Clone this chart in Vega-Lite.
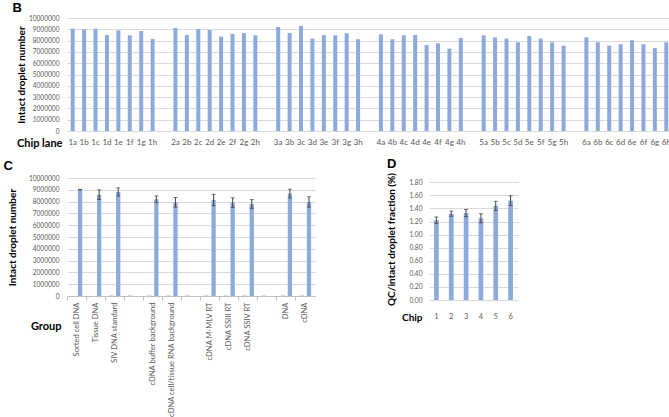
{
  "$schema": "https://vega.github.io/schema/vega-lite/v6.json",
  "padding": {"left": 3, "top": 2, "right": 0, "bottom": 0},
  "background": "white",
  "config": {
    "view": {"stroke": null},
    "font": "Lato",
    "axis": {"labelFont": "Lato", "labelColor": "#595959", "labelFontSize": 6.6, "labelOverlap": false, "titleFont": "Lato", "titleFontWeight": "bold", "titleFontSize": 10, "titleColor": "#000000", "gridColor": "#d9d9d9", "domainColor": "#d9d9d9", "tickColor": "#d9d9d9"},
    "title": {"font": "Liberation Sans", "fontSize": 13, "fontWeight": "bold", "anchor": "start", "frame": "bounds", "color": "#000000"}
  },
  "datasets": {
    "lanes": [
      {"lane": "1a", "n": 9060000}, {"lane": "1b", "n": 9000000}, {"lane": "1c", "n": 9060000}, {"lane": "1d", "n": 8500000},
      {"lane": "1e", "n": 8910000}, {"lane": "1f", "n": 8470000}, {"lane": "1g", "n": 8850000}, {"lane": "1h", "n": 8150000},
      {"lane": "2a", "n": 9120000}, {"lane": "2b", "n": 8500000}, {"lane": "2c", "n": 9030000}, {"lane": "2d", "n": 8940000},
      {"lane": "2e", "n": 8350000}, {"lane": "2f", "n": 8590000}, {"lane": "2g", "n": 8680000}, {"lane": "2h", "n": 8470000},
      {"lane": "3a", "n": 9200000}, {"lane": "3b", "n": 8680000}, {"lane": "3c", "n": 9290000}, {"lane": "3d", "n": 8180000},
      {"lane": "3e", "n": 8500000}, {"lane": "3f", "n": 8470000}, {"lane": "3g", "n": 8650000}, {"lane": "3h", "n": 8120000},
      {"lane": "4a", "n": 8560000}, {"lane": "4b", "n": 8120000}, {"lane": "4c", "n": 8470000}, {"lane": "4d", "n": 8500000},
      {"lane": "4e", "n": 7620000}, {"lane": "4f", "n": 7760000}, {"lane": "4g", "n": 7290000}, {"lane": "4h", "n": 8240000},
      {"lane": "5a", "n": 8470000}, {"lane": "5b", "n": 8290000}, {"lane": "5c", "n": 8180000}, {"lane": "5d", "n": 7850000},
      {"lane": "5e", "n": 8410000}, {"lane": "5f", "n": 8180000}, {"lane": "5g", "n": 7850000}, {"lane": "5h", "n": 7560000},
      {"lane": "6a", "n": 8290000}, {"lane": "6b", "n": 7850000}, {"lane": "6c", "n": 7560000}, {"lane": "6d", "n": 7680000},
      {"lane": "6e", "n": 8030000}, {"lane": "6f", "n": 7680000}, {"lane": "6g", "n": 7350000}, {"lane": "6h", "n": 7850000}
    ],
    "groups": [
      {"group": "Sorted cell DNA", "series": "Intact", "n": 9010000, "lo": 8990000, "hi": 9030000},
      {"group": "Tissue DNA", "series": "Intact", "n": 8590000, "lo": 8180000, "hi": 9000000},
      {"group": "SIV DNA standard", "series": "QC", "n": 100000},
      {"group": "SIV DNA standard", "series": "Intact", "n": 8820000, "lo": 8480000, "hi": 9160000},
      {"group": " ", "series": "QC", "n": 100000},
      {"group": "cDNA buffer background", "series": "QC", "n": 100000},
      {"group": "cDNA buffer background", "series": "Intact", "n": 8200000, "lo": 7920000, "hi": 8480000},
      {"group": "cDNA cell/tissue RNA background", "series": "QC", "n": 100000},
      {"group": "cDNA cell/tissue RNA background", "series": "Intact", "n": 7940000, "lo": 7530000, "hi": 8350000},
      {"group": "  ", "series": "QC", "n": 100000},
      {"group": "cDNA M-MLV RT", "series": "QC", "n": 100000},
      {"group": "cDNA M-MLV RT", "series": "Intact", "n": 8140000, "lo": 7670000, "hi": 8610000},
      {"group": "cDNA SSIII RT", "series": "QC", "n": 100000},
      {"group": "cDNA SSIII RT", "series": "Intact", "n": 7920000, "lo": 7510000, "hi": 8330000},
      {"group": "cDNA SSIV RT", "series": "QC", "n": 100000},
      {"group": "cDNA SSIV RT", "series": "Intact", "n": 7800000, "lo": 7430000, "hi": 8170000},
      {"group": "   ", "series": "QC", "n": 100000},
      {"group": "DNA", "series": "QC", "n": 100000},
      {"group": "DNA", "series": "Intact", "n": 8680000, "lo": 8310000, "hi": 9050000},
      {"group": "cDNA", "series": "QC", "n": 100000},
      {"group": "cDNA", "series": "Intact", "n": 7970000, "lo": 7530000, "hi": 8410000}
    ],
    "chips": [
      {"chip": "1", "f": 1.22, "lo": 1.17, "hi": 1.27},
      {"chip": "2", "f": 1.32, "lo": 1.28, "hi": 1.36},
      {"chip": "3", "f": 1.33, "lo": 1.275, "hi": 1.385},
      {"chip": "4", "f": 1.25, "lo": 1.18, "hi": 1.32},
      {"chip": "5", "f": 1.44, "lo": 1.37, "hi": 1.51},
      {"chip": "6", "f": 1.52, "lo": 1.445, "hi": 1.595}
    ]
  },
  "spacing": 9,
  "vconcat": [
    {
      "hconcat": [
        {
          "title": {"text": "B", "offset": 0, "dx": -4},
          "width": 605,
          "height": 113,
          "data": {"name": "lanes"},
          "mark": {"type": "bar", "color": "#8eaadb"},
          "encoding": {
            "x": {
              "field": "lane", "type": "nominal", "sort": null,
              "scale": {"domain": ["1a","1b","1c","1d","1e","1f","1g","1h"," ","2a","2b","2c","2d","2e","2f","2g","2h","  ","3a","3b","3c","3d","3e","3f","3g","3h","   ","4a","4b","4c","4d","4e","4f","4g","4h","    ","5a","5b","5c","5d","5e","5f","5g","5h","     ","6a","6b","6c","6d","6e","6f","6g","6h"], "paddingInner": 0.65, "paddingOuter": 0.325},
              "axis": {"title": "Chip lane", "titleFontSize": 11, "labelAngle": 0, "labelFontSize": 8, "labelPadding": 7, "ticks": false, "domain": false, "titleX": -5, "titleY": 12, "titleAlign": "right", "titleBaseline": "middle", "titleAngle": 0}
            },
            "y": {
              "field": "n", "type": "quantitative",
              "scale": {"domain": [0, 10000000], "nice": false},
              "axis": {"title": "Intact droplet number", "values": [0,1000000,2000000,3000000,4000000,5000000,6000000,7000000,8000000,9000000,10000000], "format": "d", "ticks": false, "domain": false, "labelPadding": 8, "titlePadding": 2}
            }
          }
        }
      ]
    },
    {
      "hconcat": [
        {
          "title": {"text": "C", "offset": 2, "dx": -4},
          "width": 248,
          "height": 118,
          "data": {"name": "groups"},
          "encoding": {
            "x": {
              "field": "group", "type": "nominal", "sort": null,
              "scale": {"domain": ["Sorted cell DNA","Tissue DNA","SIV DNA standard"," ","cDNA buffer background","cDNA cell/tissue RNA background","  ","cDNA M-MLV RT","cDNA SSIII RT","cDNA SSIV RT","   ","DNA","cDNA"], "paddingInner": 0, "paddingOuter": 0},
              "axis": {"title": "Group", "labelAngle": 270, "labelFontSize": 7.6, "labelPadding": 2, "tickSize": 4, "bandPosition": 0, "domainColor": "#bfbfbf", "tickColor": "#bfbfbf", "labelLimit": 200, "titleX": -6, "titleY": 30, "titleAlign": "right", "titleBaseline": "middle", "titleAngle": 0, "titleFontSize": 11}
            },
            "xOffset": {"field": "series", "type": "nominal", "scale": {"domain": ["QC", "Intact"], "paddingInner": 0.39, "paddingOuter": 0.55}}
          },
          "layer": [
            {
              "mark": {"type": "bar"},
              "encoding": {
                "y": {
                  "field": "n", "type": "quantitative",
                  "scale": {"domain": [0, 10000000], "nice": false},
                  "axis": {"title": "Intact droplet number", "grid": true, "values": [0,1000000,2000000,3000000,4000000,5000000,6000000,7000000,8000000,9000000,10000000], "format": "d", "ticks": false, "domain": false, "labelPadding": 8, "titlePadding": 11}
                },
                "color": {"field": "series", "type": "nominal", "scale": {"domain": ["QC", "Intact"], "range": ["#d5dae3", "#8eaadb"]}, "legend": null}
              }
            },
            {
              "mark": {"type": "rule", "color": "#404040", "strokeWidth": 1},
              "encoding": {"y": {"field": "lo", "type": "quantitative", "axis": {"title": "Intact droplet number", "grid": true, "values": [0,1000000,2000000,3000000,4000000,5000000,6000000,7000000,8000000,9000000,10000000], "format": "d", "ticks": false, "domain": false, "labelPadding": 8, "titlePadding": 11}}, "y2": {"field": "hi"}}
            },
            {
              "mark": {"type": "tick", "color": "#404040", "size": 4, "thickness": 1},
              "encoding": {"y": {"field": "lo", "type": "quantitative", "axis": {"title": "Intact droplet number", "grid": true, "values": [0,1000000,2000000,3000000,4000000,5000000,6000000,7000000,8000000,9000000,10000000], "format": "d", "ticks": false, "domain": false, "labelPadding": 8, "titlePadding": 11}}}
            },
            {
              "mark": {"type": "tick", "color": "#404040", "size": 4, "thickness": 1},
              "encoding": {"y": {"field": "hi", "type": "quantitative", "axis": {"title": "Intact droplet number", "grid": true, "values": [0,1000000,2000000,3000000,4000000,5000000,6000000,7000000,8000000,9000000,10000000], "format": "d", "ticks": false, "domain": false, "labelPadding": 8, "titlePadding": 11}}}
            }
          ]
        },
        {
          "title": {"text": "D", "offset": 2},
          "width": 89,
          "height": 122,
          "data": {"name": "chips"},
          "encoding": {
            "x": {
              "field": "chip", "type": "nominal", "sort": null,
              "scale": {"paddingInner": 0.68, "paddingOuter": 0.34},
              "axis": {"title": "Chip", "labelAngle": 0, "labelFontSize": 7.5, "labelPadding": 12, "ticks": false, "domain": false, "titleX": -7, "titleY": 17, "titleAlign": "right", "titleBaseline": "middle", "titleAngle": 0, "titleFontSize": 10}
            }
          },
          "layer": [
            {
              "mark": {"type": "bar", "color": "#8eaadb"},
              "encoding": {
                "y": {
                  "field": "f", "type": "quantitative",
                  "scale": {"domain": [0, 1.866], "nice": false},
                  "axis": {"title": "QC/intact droplet fraction (%)", "grid": true, "titleFontSize": 10, "values": [0,0.2,0.4,0.6,0.8,1.0,1.2,1.4,1.6,1.8], "format": ".2f", "ticks": false, "domain": false, "labelPadding": 7, "titlePadding": 12}
                }
              }
            },
            {
              "mark": {"type": "rule", "color": "#404040", "strokeWidth": 1},
              "encoding": {"y": {"field": "lo", "type": "quantitative", "axis": {"title": "QC/intact droplet fraction (%)", "grid": true, "titleFontSize": 10, "values": [0,0.2,0.4,0.6,0.8,1.0,1.2,1.4,1.6,1.8], "format": ".2f", "ticks": false, "domain": false, "labelPadding": 7, "titlePadding": 12}}, "y2": {"field": "hi"}}
            },
            {
              "mark": {"type": "tick", "color": "#404040", "size": 4, "thickness": 1},
              "encoding": {"y": {"field": "lo", "type": "quantitative", "axis": {"title": "QC/intact droplet fraction (%)", "grid": true, "titleFontSize": 10, "values": [0,0.2,0.4,0.6,0.8,1.0,1.2,1.4,1.6,1.8], "format": ".2f", "ticks": false, "domain": false, "labelPadding": 7, "titlePadding": 12}}}
            },
            {
              "mark": {"type": "tick", "color": "#404040", "size": 4, "thickness": 1},
              "encoding": {"y": {"field": "hi", "type": "quantitative", "axis": {"title": "QC/intact droplet fraction (%)", "grid": true, "titleFontSize": 10, "values": [0,0.2,0.4,0.6,0.8,1.0,1.2,1.4,1.6,1.8], "format": ".2f", "ticks": false, "domain": false, "labelPadding": 7, "titlePadding": 12}}}
            }
          ]
        }
      ],
      "spacing": 71
    }
  ]
}
